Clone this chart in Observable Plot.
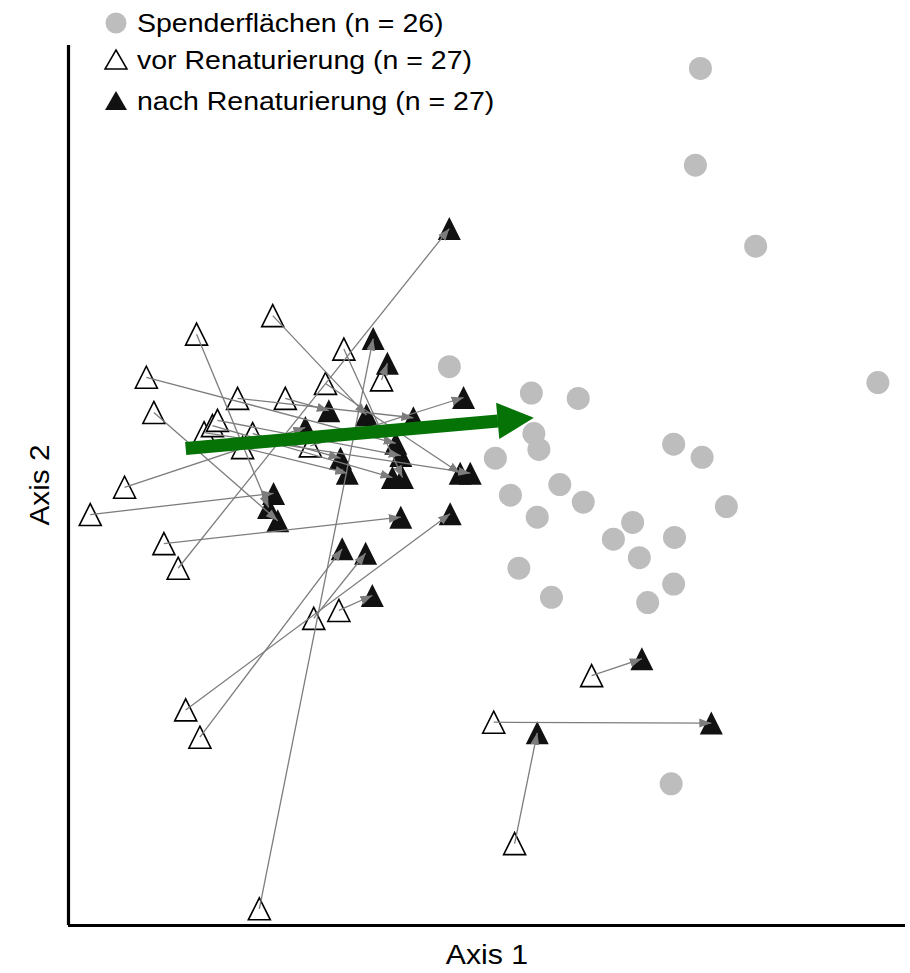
<!DOCTYPE html>
<html><head><meta charset="utf-8">
<script src="https://cdn.jsdelivr.net/npm/d3@7"></script>
<script src="https://cdn.jsdelivr.net/npm/@observablehq/plot@0.6"></script>
<style>
body{margin:0;background:#fff;font-family:"Liberation Sans",Arial,sans-serif;}
#wrap{position:relative;width:910px;height:973px;overflow:hidden;}
#wrap svg.plot{position:absolute;left:0;top:0;}
.lab{position:absolute;font-size:25px;line-height:25px;color:#000;white-space:nowrap;}
.ax{font-size:27px;line-height:27px;}
.leg{transform-origin:left center;transform:scaleX(1.14);}
.sym{position:absolute;}
</style></head><body><div id="wrap"></div>
<script>
// Spenderflächen (grey circles): Axis 1 / Axis 2 scores (0–100 units)
const spenderX = [75.5,74.9,82.1,96.7,45.5,55.3,60.9,55.6,56.2,51.0,72.3,75.7,58.7,52.8,61.5,78.6,56.0,67.4,65.1,72.4,68.2,53.8,72.3,57.7,69.2,72.0];
const spenderY = [97.4,86.4,77.2,61.7,63.5,60.5,59.9,55.9,54.1,53.1,54.7,53.2,50.1,48.9,48.1,47.6,46.4,45.8,43.9,44.1,41.8,40.6,38.8,37.3,36.7,16.1];
// vor Renaturierung (open triangles)
const vorX = [24.4,15.3,9.3,10.2,20.2,25.9,32.9,30.7,37.4,16.2,17.2,17.8,22.0,6.7,2.6,11.4,13.1,29.3,32.3,14.0,15.7,50.8,62.5,53.3,22.8,28.9,20.8];
const vorY = [69.3,67.2,62.3,58.3,59.9,59.9,65.5,61.6,62.0,56.0,56.8,57.4,55.9,49.8,46.7,43.4,40.6,34.9,35.8,24.5,21.4,23.1,28.4,9.3,1.9,54.5,54.3];
// nach Renaturierung (filled triangles), same site order
const nachX = [35.6,23.9,39.1,25.0,41.2,31.1,39.9,46.8,38.1,48.0,38.7,39.7,32.5,28.3,24.5,39.7,45.5,35.5,36.3,45.6,32.7,76.8,68.5,56.0,36.4,47.2,33.3];
const nachY = [58.0,47.5,54.8,46.0,57.7,58.5,50.9,51.4,63.9,51.4,50.9,53.4,53.1,56.6,49.1,46.4,79.2,42.3,37.5,46.8,42.8,23.0,30.3,21.9,66.7,60.0,51.4];
// overall shift (green arrow): from -> to
const trendFrom = [14.0, 54.2];
const trendTo = [55.6, 57.7];
const legendLabels = ["Spenderflächen (n = 26)", "vor Renaturierung (n = 27)", "nach Renaturierung (n = 27)"];
const axisLabels = ["Axis 1", "Axis 2"];

const spender = spenderX.map((x, i) => ({x, y: spenderY[i]}));
const sites = vorX.map((x, i) => ({x0: x, y0: vorY[i], x1: nachX[i], y1: nachY[i]}));
const headFrac = 0.897; // shaft ends where the arrowhead begins
const trend = [{
  x1: trendFrom[0], y1: trendFrom[1],
  x2: trendFrom[0] + (trendTo[0] - trendFrom[0]) * headFrac,
  y2: trendFrom[1] + (trendTo[1] - trendFrom[1]) * headFrac,
  tx: trendTo[0], ty: trendTo[1]
}];

const tri = {draw(ctx, size) { const r = Math.sqrt(size / Math.PI);
  ctx.moveTo(0, -r); ctx.lineTo(r, r); ctx.lineTo(-r, r); ctx.closePath(); }};
const head = {draw(ctx, size) { const L = Math.sqrt(size);
  ctx.moveTo(0, 0); ctx.lineTo(0.5 * L, L); ctx.lineTo(-0.5 * L, L); ctx.closePath(); }};

function filledArrow(color, context) {
  const m = d3.create("svg:marker")
    .attr("viewBox", "-12 -6 12 12").attr("markerWidth", 12).attr("markerHeight", 12)
    .attr("markerUnits", "userSpaceOnUse").attr("orient", "auto")
    .attr("fill", color).attr("stroke", "none");
  m.append("path").attr("d", "M-12,-4.5L0,0L-12,4.5Z");
  return m.node();
}

const green = "#067306";
const chart = Plot.plot({
  width: 910, height: 973,
  marginLeft: 68, marginRight: 5, marginTop: 45, marginBottom: 48,
  x: {domain: [0, 100], axis: null},
  y: {domain: [0, 100], axis: null},
  style: {background: "transparent", overflow: "visible"},
  marks: [
    Plot.ruleX([0], {stroke: "#000", strokeWidth: 3.2}),
    Plot.ruleY([0], {stroke: "#000", strokeWidth: 3}),
    Plot.dot(spender, {x: "x", y: "y", r: 11.5, fill: "#bdbdbd", stroke: "none"}),
    Plot.dot(sites, {x: "x0", y: "y0", symbol: tri, r: 11, fill: "white", stroke: "#000", strokeWidth: 1.6}),
    Plot.dot(sites, {x: "x1", y: "y1", symbol: tri, r: 11.5, fill: "#111", stroke: "none"}),
    Plot.link(sites, {x1: "x0", y1: "y0", x2: "x1", y2: "y1", stroke: "#7d7d7d", strokeWidth: 1.3, markerEnd: filledArrow}),
    Plot.link(trend, {x1: "x1", y1: "y1", x2: "x2", y2: "y2", stroke: green, strokeWidth: 13, strokeLinecap: "butt"}),
    Plot.dot(trend, {x: "tx", y: "ty", symbol: head, r: 20.5, rotate: 85, fill: green, stroke: "none"})
  ]
});
const wrap = document.getElementById("wrap");
wrap.appendChild(chart);

// legend
const legTop = [11, 48, 89];
const symY = [23, 60, 101];
legendLabels.forEach((t, i) => {
  const d = document.createElement("div");
  d.className = "lab leg"; d.style.left = "137px"; d.style.top = legTop[i] + "px"; d.textContent = t;
  wrap.appendChild(d);
  const s = d3.create("svg").attr("class", "sym").attr("width", 26).attr("height", 26)
    .style("left", "103px").style("top", (symY[i] - 13) + "px");
  if (i === 0) s.append("circle").attr("cx", 13).attr("cy", 13).attr("r", 10.5).attr("fill", "#bdbdbd");
  else s.append("path").attr("d", "M13,3L24,22L2,22Z")
    .attr("fill", i === 1 ? "white" : "#111").attr("stroke", i === 1 ? "#000" : "none").attr("stroke-width", 1.5);
  wrap.appendChild(s.node());
});
// axis titles
const ax1 = document.createElement("div");
ax1.className = "lab ax"; ax1.textContent = axisLabels[0];
ax1.style.left = "487px"; ax1.style.top = "942px"; ax1.style.transform = "translateX(-50%) scaleX(1.12)";
wrap.appendChild(ax1);
const ax2 = document.createElement("div");
ax2.className = "lab ax"; ax2.textContent = axisLabels[1];
ax2.style.left = "40px"; ax2.style.top = "485px"; ax2.style.transform = "translate(-50%,-50%) rotate(-90deg) scaleX(1.1)";
wrap.appendChild(ax2);
</script></body></html>
